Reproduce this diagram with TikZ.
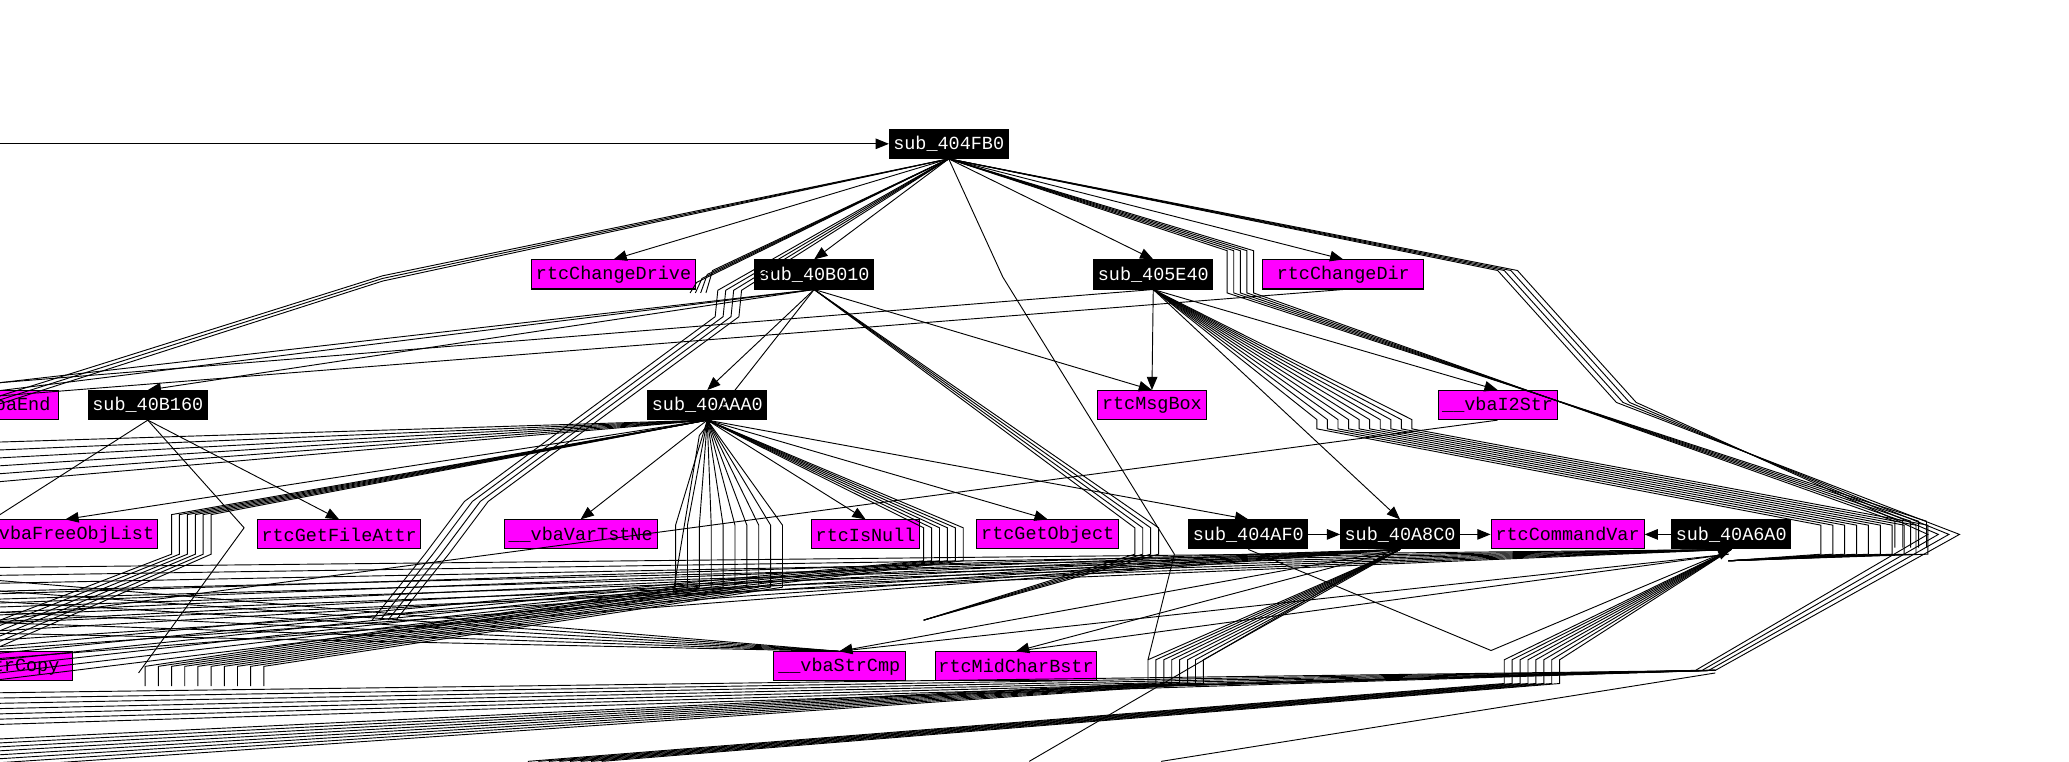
\documentclass[tikz,border=0pt]{standalone}
\usepackage{fontspec}
\setmainfont{Liberation Mono}
\usetikzlibrary{arrows.meta}
\definecolor{mag}{RGB}{255,0,255}
\begin{document}
\begin{tikzpicture}[x=0.5pt,y=-0.5pt,
  base/.style={draw=black,line width=0.4pt,minimum height=11pt,inner sep=1pt,font=\fontsize{7}{8}\selectfont},
  fn/.style={base,fill=black,text=white},
  lib/.style={base,fill=mag,text=black},
  e/.style={line width=0.35pt},
  a/.style={e,-{Triangle[width=4pt,length=5pt]}}]
\useasboundingbox (0,0) rectangle (1568,577);
\clip (0,0) rectangle (1568,577);
% nodes
\node[fn,minimum width=45pt] (n0) at (719,109) {sub\_404FB0};
\node[lib,minimum width=62pt] (cd) at (465,208) {rtcChangeDrive};
\node[fn,minimum width=45pt] (b010) at (617,208) {sub\_40B010};
\node[fn,minimum width=45pt] (e40) at (874,208) {sub\_405E40};
\node[lib,minimum width=61pt] (cdir) at (1018,208) {rtcChangeDir};
\node[lib,minimum width=40pt,anchor=east] (vend) at (45,307) {\_\_vbaEnd};
\node[fn,minimum width=45pt] (b160) at (112,307) {sub\_40B160};
\node[fn,minimum width=45pt] (aaa) at (536,307) {sub\_40AAA0};
\node[lib,minimum width=41pt] (msg) at (873,307) {rtcMsgBox};
\node[lib,minimum width=45pt] (i2s) at (1135,307) {\_\_vbaI2Str};
\node[lib,minimum width=70pt,anchor=east] (fol) at (120,405) {\_\_vbaFreeObjList};
\node[lib,minimum width=62pt] (gfa) at (257,405) {rtcGetFileAttr};
\node[lib,minimum width=58pt] (vtn) at (440,405) {\_\_vbaVarTstNe};
\node[lib,minimum width=41pt] (isn) at (656,405) {rtcIsNull};
\node[lib,minimum width=54pt] (gob) at (794,405) {rtcGetObject};
\node[fn,minimum width=45pt] (af0) at (946,405) {sub\_404AF0};
\node[fn,minimum width=45pt] (a8c) at (1061,405) {sub\_40A8C0};
\node[lib,minimum width=58pt] (cmv) at (1188,405) {rtcCommandVar};
\node[fn,minimum width=45pt] (a6a) at (1312,405) {sub\_40A6A0};
\node[lib,minimum width=60pt,anchor=east] (scp) at (55,505) {\_\_vbaStrCopy};
\node[lib,minimum width=50pt] (scm) at (636,505) {\_\_vbaStrCmp};
\node[lib,minimum width=61pt] (mcb) at (770,505) {rtcMidCharBstr};
\coordinate (in) at (0,109);
% main edges
\draw[a] (in) -- (n0.west);
\draw[a] (n0.south) -- (cd.north);
\draw[a] (n0.south) -- (b010.north);
\draw[a] (n0.south) -- (e40.north);
\draw[a] (n0.south) -- (cdir.north);
\foreach \i in {0,1,2} \draw[e] (n0.south) -- (290,209+\i*2) -- (0,300+\i*3);
\draw[e] (n0.south) -- (760,210) -- (890,420) -- (870,500);
\foreach \i in {0,...,3}{
  \draw[e] (n0.south) -- (562-\i*6,220) -- (560-\i*6,240) -- (370-\i*6,380) -- (340-\i*6,420) -- (300-\i*6,470);
  \draw[e] (n0.south) -- (540-\i*4,205+\i*3) -- (535-\i*4,222);
}
\foreach \i in {0,...,4}{
  \draw[e] (n0.south) -- (930+\i*5,190) -- (930+\i*5,222) -- (1460-\i*6,395) -- (1460-\i*6,415);
}
\foreach \i in {0,...,3}
  \draw[e] (n0.south) -- (1135+\i*5,205) -- (1225+\i*5,305) -- (1485-\i*8,405) -- (1300-\i*5,508) -- (880-\i*4,520);
\draw[a] (b010.south) -- (aaa.north);
\draw[a] (b010.south) -- (msg.north);
\draw[a] (b010.south) -- (b160.north);
\foreach \i in {0,1} \draw[e] (b010.south) -- (0,290+\i*6);
\foreach \i in {0,...,3} \draw[e] (b010.south) -- (860+\i*6,400) -- (860+\i*6,420) -- (700,470);
\draw[e] (b010.south) -- (530,330) -- (510,450);
\draw[a] (e40.south) -- (msg.north);
\draw[a] (e40.south) -- (i2s.north);
\draw[a] (e40.south) -- (a8c.north);
\draw[e] (e40.south) -- (0,290);
\draw[e] (cdir.south) -- (0,300);
\foreach \i in {0,...,9}
  \draw[e] (e40.south) -- (998+\i*8,318) -- (998+\i*8,325) -- (1380+\i*9,398) -- (1380+\i*9,420) -- (1310,425);
\draw[e] (i2s.south) -- (0,470);
% sub_40AAA0 fan
\draw[a] (aaa.south) -- (vtn.north);
\draw[a] (aaa.south) -- (isn.north);
\draw[a] (aaa.south) -- (gob.north);
\draw[a] (aaa.south) -- (af0.north);
\draw[a] (aaa.south) -- (fol.north);
\draw[a] (b160.south) -- (gfa.north);
\foreach \i in {0,...,9}{
  \draw[e] (aaa.south) -- (512+\i*9,398) -- (512+\i*9,445) -- (110+\i*10,505) -- (110+\i*10,520);
}
\foreach \i in {0,...,5}{
  \draw[e] (aaa.south) -- (700+\i*6,400) -- (700+\i*6,425) -- (0,490+\i*5);
  \draw[e] (aaa.south) -- (0,335+\i*6);
  \draw[e] (aaa.south) -- (130+\i*6,390) -- (130+\i*6,420) -- (0,470+\i*4);
}
\draw[e] (b160.south) -- (185,400) -- (105,510);
\draw[e] (b160.south) -- (0,390);
% right cluster
\draw[a] (af0.east) -- (a8c.west);
\draw[a] (a8c.east) -- (cmv.west);
\draw[a] (a6a.west) -- (cmv.east);
\draw[a] (a8c.south) -- (scm.north);
\draw[a] (a8c.south) -- (mcb.north);
\draw[a] (af0.south) -- (1130,493) -- (a6a.south);
\foreach \i in {0,...,7}{
  \draw[e] (a8c.south) -- (870+\i*6,500) -- (870+\i*6,518) -- (0,560+\i*3);
  \draw[e] (a6a.south) -- (1140+\i*6,500) -- (1140+\i*6,518) -- (400+\i*8,577);
  \draw[e] (a6a.south) -- (0,430+\i*6);
  \draw[e] (a8c.south) -- (0,450+\i*7);
}
\foreach \i in {0,...,6}
  \draw[e] (1300,508) -- (0,525+\i*4);
\draw[e] (1300,510) -- (880,577);
\draw[e] (1050,420) -- (780,577);
\foreach \i in {0,...,5} \draw[e] (scm.north) -- (0,440+\i*8);
\draw[e] (scm.north) -- (1310,420);
\draw[e] (mcb.north) -- (1310,420);
\end{tikzpicture}
\end{document}
